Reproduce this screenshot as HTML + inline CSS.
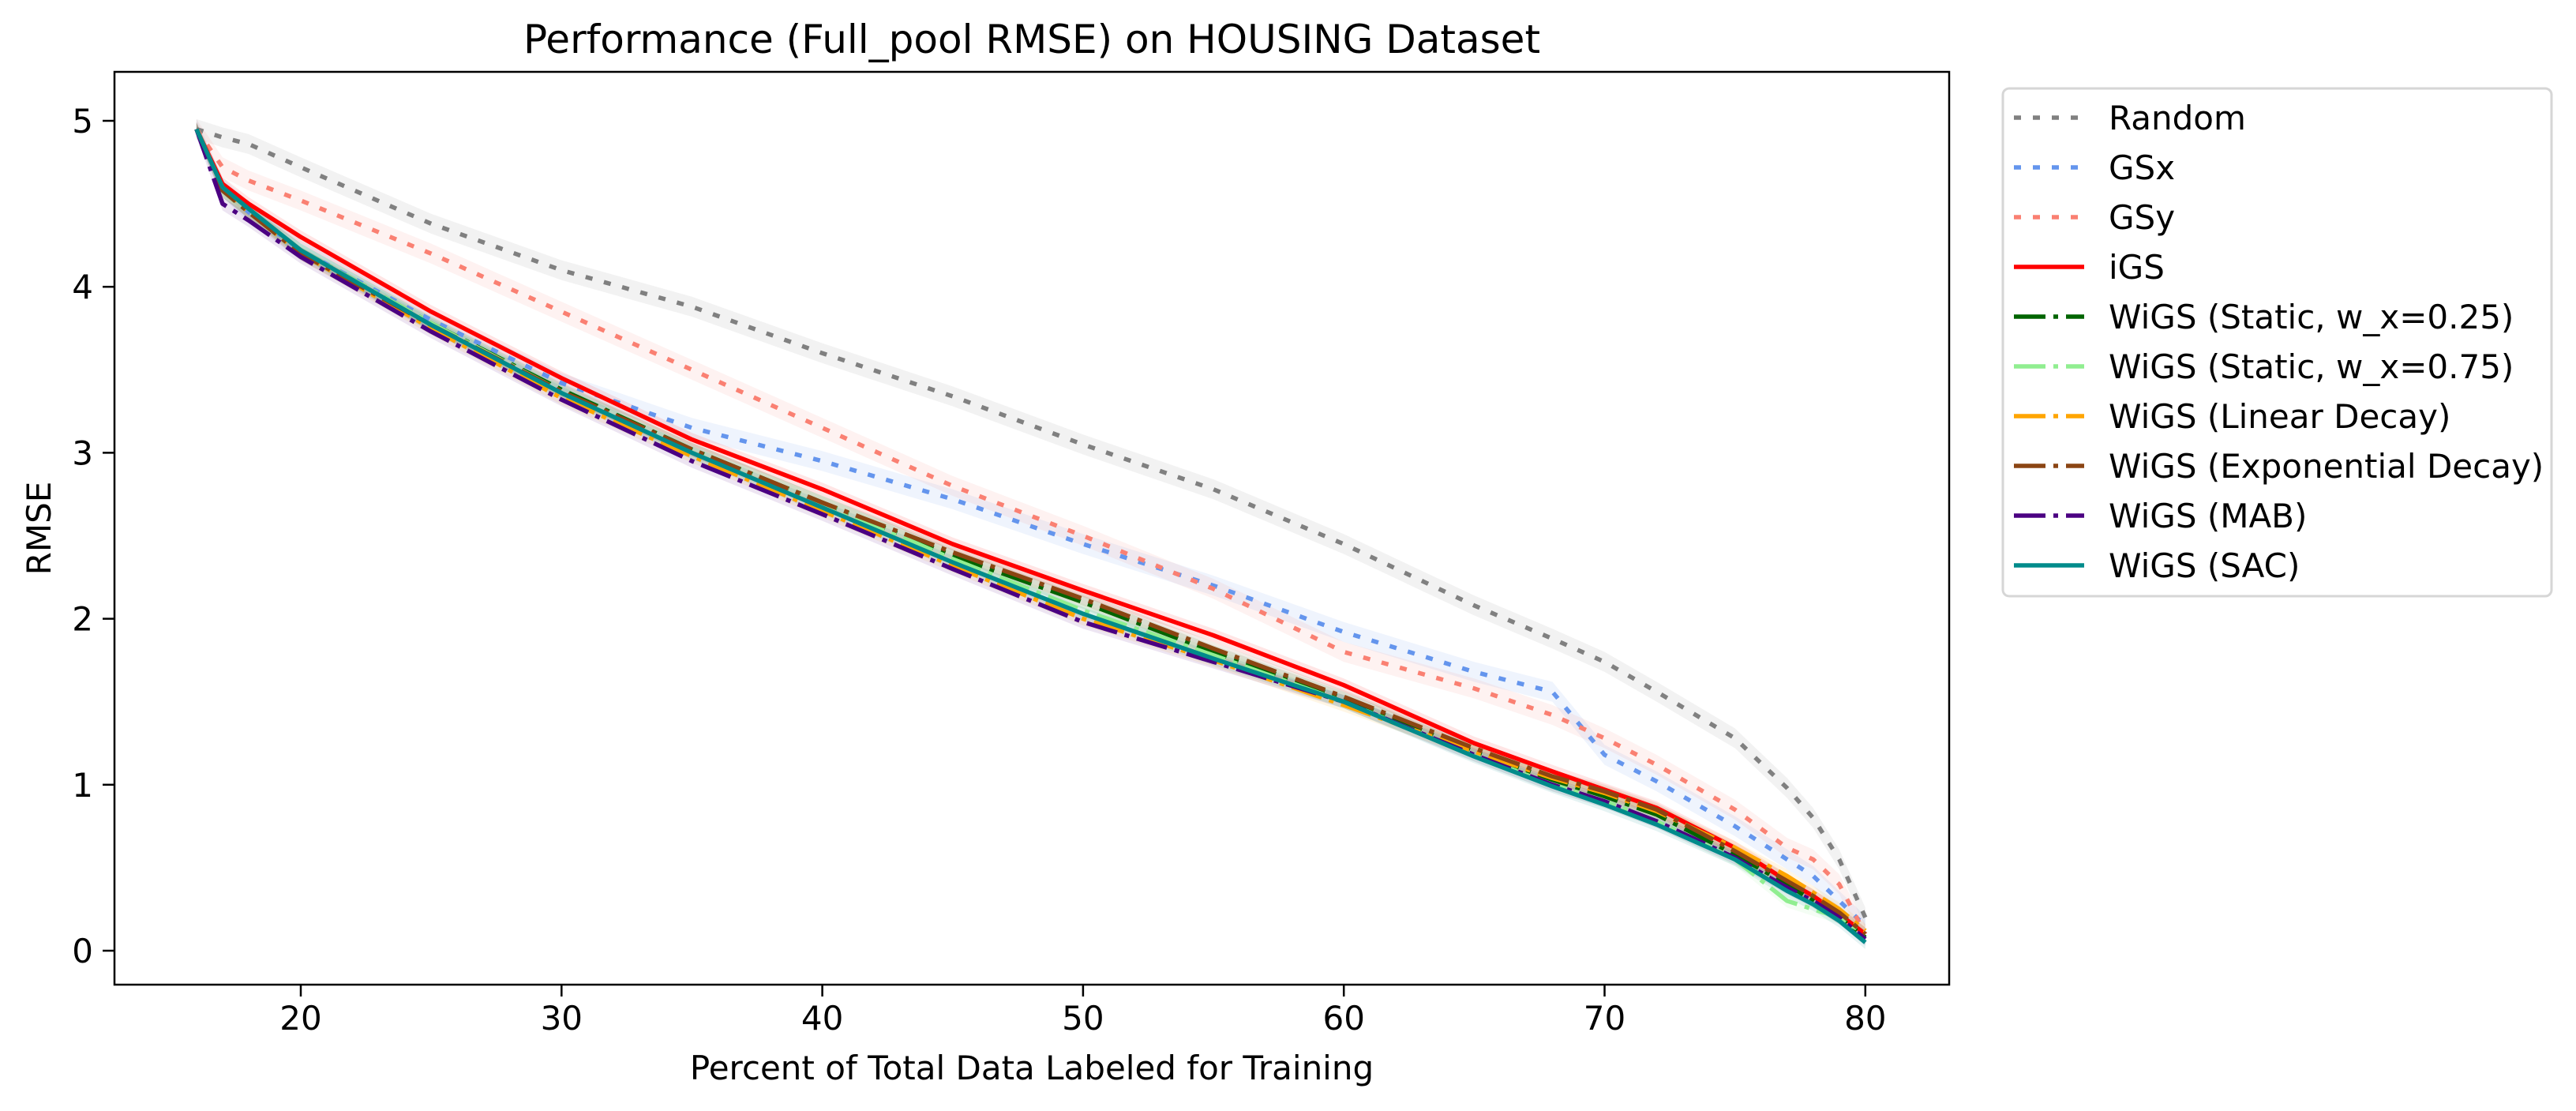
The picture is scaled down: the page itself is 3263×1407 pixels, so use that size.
<!DOCTYPE html>
<html><head><meta charset="utf-8"><style>
html,body{margin:0;padding:0;background:#fff;}
svg{display:block;font-family:"DejaVu Sans","Liberation Sans",sans-serif;}
</style></head><body>
<svg id="chart" width="3263" height="1407" viewBox="0 0 3263 1407" xmlns="http://www.w3.org/2000/svg">
<rect width="3263" height="1407" fill="#fff"/>
<text x="1307" y="67" font-size="50" text-anchor="middle">Performance (Full_pool RMSE) on HOUSING Dataset</text>
<g id="bands"></g>
<g id="lines"></g>
<rect x="145" y="91" width="2324" height="1156" fill="none" stroke="#000" stroke-width="2.5"/>
<g id="xticks"></g>
<g id="yticks"></g>
<text x="1307" y="1367" font-size="42" text-anchor="middle">Percent of Total Data Labeled for Training</text>
<text x="0" y="0" font-size="42" text-anchor="middle" transform="translate(64,669) rotate(-90)">RMSE</text>
<g id="legend"></g>
</svg>
<script>
const xs = [16,17,18,20,25,30,35,40,45,50,55,60,65,68,70,72,75,77,78,79,80];
const randomY = [4.95,4.9,4.86,4.72,4.38,4.1,3.88,3.6,3.34,3.05,2.78,2.45,2.08,1.88,1.74,1.56,1.28,0.98,0.8,0.55,0.2];
const gsxY    = [4.95,4.6,4.45,4.22,3.8,3.42,3.15,2.95,2.72,2.45,2.2,1.92,1.68,1.56,1.18,1.02,0.75,0.55,0.45,0.3,0.15];
const gsyY    = [4.95,4.72,4.64,4.52,4.2,3.85,3.5,3.15,2.8,2.5,2.18,1.8,1.58,1.42,1.28,1.12,0.85,0.62,0.55,0.4,0.1];
const igsY    = [4.95,4.62,4.5,4.3,3.85,3.45,3.08,2.78,2.45,2.17,1.9,1.6,1.25,1.08,0.97,0.86,0.62,0.42,0.33,0.22,0.1];
const s25Y    = [4.95,4.58,4.45,4.22,3.78,3.38,3.02,2.7,2.38,2.1,1.8,1.52,1.2,1.03,0.93,0.82,0.58,0.4,0.3,0.2,0.08];
const s75Y    = [4.95,4.58,4.45,4.22,3.78,3.37,3.0,2.7,2.36,2.05,1.78,1.5,1.18,1.0,0.9,0.78,0.55,0.3,0.25,0.2,0.1];
const linY    = [4.95,4.6,4.45,4.2,3.75,3.33,2.98,2.65,2.32,2.0,1.75,1.48,1.2,1.04,0.95,0.84,0.62,0.45,0.35,0.25,0.12];
const expY    = [4.95,4.58,4.45,4.2,3.77,3.37,3.02,2.7,2.4,2.12,1.82,1.53,1.22,1.05,0.96,0.85,0.6,0.42,0.33,0.23,0.1];
const mabY    = [4.95,4.5,4.4,4.18,3.73,3.32,2.95,2.63,2.3,1.98,1.74,1.5,1.18,1.0,0.9,0.78,0.56,0.38,0.3,0.2,0.07];
const sacY    = [4.95,4.6,4.47,4.22,3.77,3.36,3.0,2.67,2.34,2.03,1.76,1.5,1.17,0.99,0.88,0.76,0.55,0.36,0.28,0.18,0.05];
const xTicks = [20,30,40,50,60,70,80];
const yTicks = [0,1,2,3,4,5];
const seriesNames = ["Random","GSx","GSy","iGS","WiGS (Static, w_x=0.25)","WiGS (Static, w_x=0.75)","WiGS (Linear Decay)","WiGS (Exponential Decay)","WiGS (MAB)","WiGS (SAC)"];
const seriesData = [randomY,gsxY,gsyY,igsY,s25Y,s75Y,linY,expY,mabY,sacY];
const colors = ["#808080","#6495ed","#fa8072","#ff0000","#006400","#90ee90","#ffa500","#8b4513","#4b0082","#008b8b"];
const styles = ["dot","dot","dot","solid","dashdot","dashdot","dashdot","dashdot","dashdot","solid"];

const NS="http://www.w3.org/2000/svg";
function X(v){return 381+(v-20)*33.03;}
function Y(v){return 1204-v*210.2;}
function dash(s){return s==="dot"?"9 15":s==="dashdot"?"40 10 6 10":"";}
function mk(tag,attrs,parent){const e=document.createElementNS(NS,tag);for(const k in attrs)e.setAttribute(k,attrs[k]);parent.appendChild(e);return e;}

const bands=document.getElementById('bands');
const lines=document.getElementById('lines');
seriesData.forEach((ys,i)=>{
  const w = i<3?0.06:0.04;
  let up=xs.map((x,j)=>X(x)+','+Y(ys[j]+w)).join(' ');
  let dn=xs.map((x,j)=>X(x)+','+Y(ys[j]-w)).reverse().join(' ');
  const b=mk('polygon',{points:up+' '+dn,fill:colors[i],'fill-opacity':i===0?0.1:0.1},bands);
  
  
});
seriesData.forEach((ys,i)=>{
  const p=mk('polyline',{points:xs.map((x,j)=>X(x)+','+Y(ys[j])).join(' '),fill:'none',stroke:colors[i],'stroke-width':5.5,'stroke-dasharray':dash(styles[i]),'stroke-linejoin':'round'},lines);
  
  
});
const xt=document.getElementById('xticks');
xTicks.forEach(t=>{
  const l=mk('line',{x1:X(t),x2:X(t),y1:1247,y2:1262,stroke:'#000','stroke-width':2.5},xt);
  
  
  const tx=mk('text',{x:X(t),y:1304,'font-size':42,'text-anchor':'middle'},xt);
  tx.textContent=t;
  
  
});
const yt=document.getElementById('yticks');
yTicks.forEach(t=>{
  const l=mk('line',{x1:130,x2:145,y1:Y(t),y2:Y(t),stroke:'#000','stroke-width':2.5},yt);
  
  
  const tx=mk('text',{x:118,y:Y(t)+15,'font-size':42,'text-anchor':'end'},yt);
  tx.textContent=t;
  
  
});
const lg=document.getElementById('legend');
const box=mk('rect',{x:2537,y:112,width:695,height:643,rx:8,fill:'#fff',stroke:'#d6d6d6','stroke-width':3},lg);


seriesNames.forEach((n,i)=>{
  const y=149+i*63;
  const l=mk('line',{x1:2551,x2:2640,y1:y,y2:y,stroke:colors[i],'stroke-width':5.5,'stroke-dasharray':dash(styles[i])},lg);
  
  
  const t=mk('text',{x:2671,y:y+15,'font-size':42},lg);
  t.textContent=n;
  
  
});
</script>
</body></html>
